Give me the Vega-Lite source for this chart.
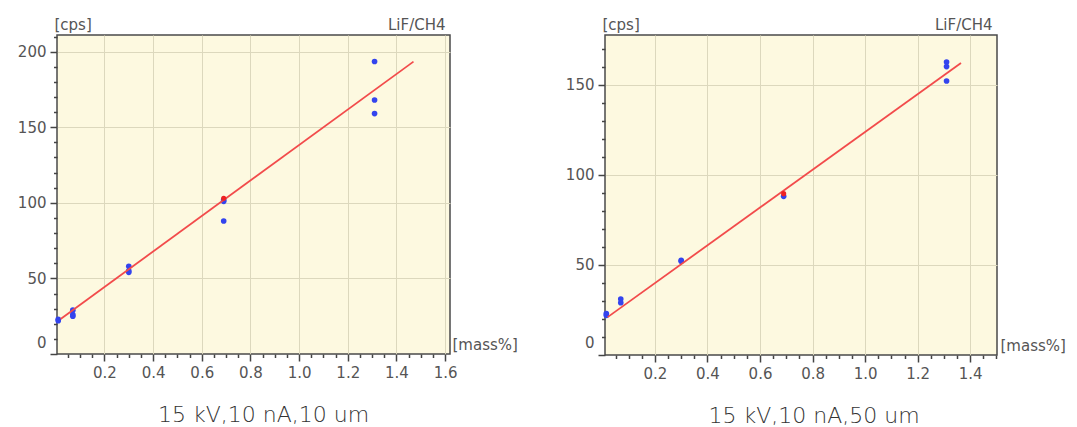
{
  "$schema": "https://vega.github.io/schema/vega-lite/v6.json",
  "background": "white",
  "padding": {"left": 16, "top": 16, "right": 5, "bottom": 5},
  "bounds": "flush",
  "spacing": 155,
  "config": {
    "view": {"fill": "#fdf9e0", "stroke": "#4a4a4a", "strokeWidth": 1.5},
    "axis": {
      "domain": false,
      "labelFont": "DejaVu Sans",
      "labelFontSize": 15,
      "labelColor": "#555555",
      "titleFont": "DejaVu Sans",
      "titleFontSize": 15,
      "titleFontWeight": "normal",
      "titleColor": "#555555",
      "tickColor": "#444444",
      "tickWidth": 1.5,
      "gridColor": "#dcd8bd",
      "gridWidth": 1,
      "labelFlush": false,
      "labelOverlap": false,
      "labelPadding": 4
    }
  },
  "hconcat": [
    {
      "width": 393,
      "height": 319,
      "title": {"text": "15 kV,10 nA,10 um", "orient": "bottom", "anchor": "middle", "frame": "group", "dx": 10, "offset": 25, "font": "DejaVu Sans", "fontSize": 22, "fontWeight": 300, "color": "#333333"},
      "encoding": {
        "x": {
          "field": "mass", "type": "quantitative",
          "scale": {"domain": [0.005, 1.62], "nice": false, "zero": false},
          "axis": {
            "values": [0.05,0.1,0.15,0.2,0.25,0.3,0.35,0.4,0.45,0.5,0.55,0.6,0.65,0.7,0.75,0.8,0.85,0.9,0.95,1,1.05,1.1,1.15,1.2,1.25,1.3,1.35,1.4,1.45,1.5,1.55,1.6],
            "grid": true,
            "title": "[mass%]", "titleX": 395, "titleY": -5, "titleAlign": "left", "titleBaseline": "alphabetic",
            "labelExpr": "round(datum.value*20) % 4 == 0 ? format(datum.value, '.1f') : ''",
            "tickSize": {"condition": {"test": "round(datum.value*20) % 4 == 0", "value": 7}, "value": 3.5},
            "gridOpacity": {"condition": {"test": "round(datum.value*20) % 4 == 0", "value": 1}, "value": 0}
          }
        },
        "y": {
          "field": "cps", "type": "quantitative",
          "scale": {"domain": [0, 211], "nice": false, "zero": false},
          "axis": {
            "values": [0,10,20,30,40,50,60,70,80,90,100,110,120,130,140,150,160,170,180,190,200,210],
            "grid": true,
            "title": "[cps]", "titleAngle": 0, "titleX": -3, "titleY": -6, "titleAlign": "left", "titleBaseline": "alphabetic",
            "labelExpr": "datum.value % 50 == 0 ? datum.label : ''",
            "tickSize": {"condition": {"test": "datum.value % 50 == 0", "value": 7}, "value": 3.5},
            "gridOpacity": {"condition": {"test": "datum.value % 50 == 0 && datum.value > 0", "value": 1}, "value": 0},
            "labelOffset": {"condition": {"test": "datum.value == 0", "value": -12}, "value": 0}
          }
        }
      },
      "layer": [
        {
          "data": {"values": [
            {"mass": 0.01, "cps": 23}, {"mass": 0.01, "cps": 22},
            {"mass": 0.07, "cps": 29}, {"mass": 0.07, "cps": 26}, {"mass": 0.07, "cps": 25},
            {"mass": 0.30, "cps": 58}, {"mass": 0.30, "cps": 55}, {"mass": 0.30, "cps": 54},
            {"mass": 0.69, "cps": 102}, {"mass": 0.69, "cps": 101}, {"mass": 0.69, "cps": 88},
            {"mass": 1.31, "cps": 193.5}, {"mass": 1.31, "cps": 168}, {"mass": 1.31, "cps": 159}
          ]},
          "mark": {"type": "point", "filled": true, "shape": "circle", "size": 32, "color": "#3344ee", "opacity": 1}
        },
        {
          "data": {"values": [{"mass": 0.02, "cps": 23.2}, {"mass": 1.47, "cps": 193.4}]},
          "mark": {"type": "line", "color": "#f24b4b", "strokeWidth": 1.8},
          "encoding": {
            "y": {
              "field": "cps", "type": "quantitative",
              "scale": {"domain": [0, 211], "nice": false, "zero": false},
              "axis": {"orient": "right", "grid": false, "ticks": false, "labels": false, "domain": false, "title": "LiF/CH4", "titleAngle": 0, "titleX": -5, "titleY": -6, "titleAlign": "right", "titleBaseline": "alphabetic"}
            }
          }
        },
        {
          "data": {"values": [{"mass": 0.69, "cps": 103}]},
          "mark": {"type": "point", "filled": true, "shape": "circle", "size": 26, "color": "#ee2222", "opacity": 1},
          "encoding": {"y": {"field": "cps", "type": "quantitative", "scale": {"domain": [0, 211], "nice": false, "zero": false}, "axis": null}}
        }
      ],
      "resolve": {"axis": {"y": "independent"}}
    },
    {
      "width": 392,
      "height": 320,
      "title": {"text": "15 kV,10 nA,50 um", "orient": "bottom", "anchor": "middle", "frame": "group", "dx": 13, "offset": 25, "font": "DejaVu Sans", "fontSize": 22, "fontWeight": 300, "color": "#333333"},
      "encoding": {
        "x": {
          "field": "mass", "type": "quantitative",
          "scale": {"domain": [0.01, 1.502], "nice": false, "zero": false},
          "axis": {
            "values": [0.05,0.1,0.15,0.2,0.25,0.3,0.35,0.4,0.45,0.5,0.55,0.6,0.65,0.7,0.75,0.8,0.85,0.9,0.95,1,1.05,1.1,1.15,1.2,1.25,1.3,1.35,1.4,1.45,1.5],
            "grid": true,
            "title": "[mass%]", "titleX": 395, "titleY": -5, "titleAlign": "left", "titleBaseline": "alphabetic",
            "labelExpr": "round(datum.value*20) % 4 == 0 ? format(datum.value, '.1f') : ''",
            "tickSize": {"condition": {"test": "round(datum.value*20) % 4 == 0", "value": 7}, "value": 3.5},
            "gridOpacity": {"condition": {"test": "round(datum.value*20) % 4 == 0", "value": 1}, "value": 0}
          }
        },
        "y": {
          "field": "cps", "type": "quantitative",
          "scale": {"domain": [0, 177.5], "nice": false, "zero": false},
          "axis": {
            "values": [0,10,20,30,40,50,60,70,80,90,100,110,120,130,140,150,160,170],
            "grid": true,
            "title": "[cps]", "titleAngle": 0, "titleX": -3, "titleY": -6, "titleAlign": "left", "titleBaseline": "alphabetic",
            "labelExpr": "datum.value % 50 == 0 ? datum.label : ''",
            "tickSize": {"condition": {"test": "datum.value % 50 == 0", "value": 7}, "value": 3.5},
            "gridOpacity": {"condition": {"test": "datum.value % 50 == 0 && datum.value > 0", "value": 1}, "value": 0},
            "labelOffset": {"condition": {"test": "datum.value == 0", "value": -13}, "value": 0}
          }
        }
      },
      "layer": [
        {
          "data": {"values": [
            {"mass": 0.015, "cps": 23}, {"mass": 0.015, "cps": 22},
            {"mass": 0.07, "cps": 31}, {"mass": 0.07, "cps": 29},
            {"mass": 0.30, "cps": 52.5}, {"mass": 0.30, "cps": 52},
            {"mass": 0.69, "cps": 88},
            {"mass": 1.31, "cps": 162.5}, {"mass": 1.31, "cps": 160}, {"mass": 1.31, "cps": 152}
          ]},
          "mark": {"type": "point", "filled": true, "shape": "circle", "size": 32, "color": "#3344ee", "opacity": 1}
        },
        {
          "data": {"values": [{"mass": 0.02, "cps": 21}, {"mass": 1.365, "cps": 162}]},
          "mark": {"type": "line", "color": "#f24b4b", "strokeWidth": 1.8},
          "encoding": {
            "y": {
              "field": "cps", "type": "quantitative",
              "scale": {"domain": [0, 177.5], "nice": false, "zero": false},
              "axis": {"orient": "right", "grid": false, "ticks": false, "labels": false, "domain": false, "title": "LiF/CH4", "titleAngle": 0, "titleX": -5, "titleY": -6, "titleAlign": "right", "titleBaseline": "alphabetic"}
            }
          }
        },
        {
          "data": {"values": [{"mass": 0.69, "cps": 89.5}]},
          "mark": {"type": "point", "filled": true, "shape": "circle", "size": 26, "color": "#ee2222", "opacity": 1},
          "encoding": {"y": {"field": "cps", "type": "quantitative", "scale": {"domain": [0, 177.5], "nice": false, "zero": false}, "axis": null}}
        }
      ],
      "resolve": {"axis": {"y": "independent"}}
    }
  ]
}
